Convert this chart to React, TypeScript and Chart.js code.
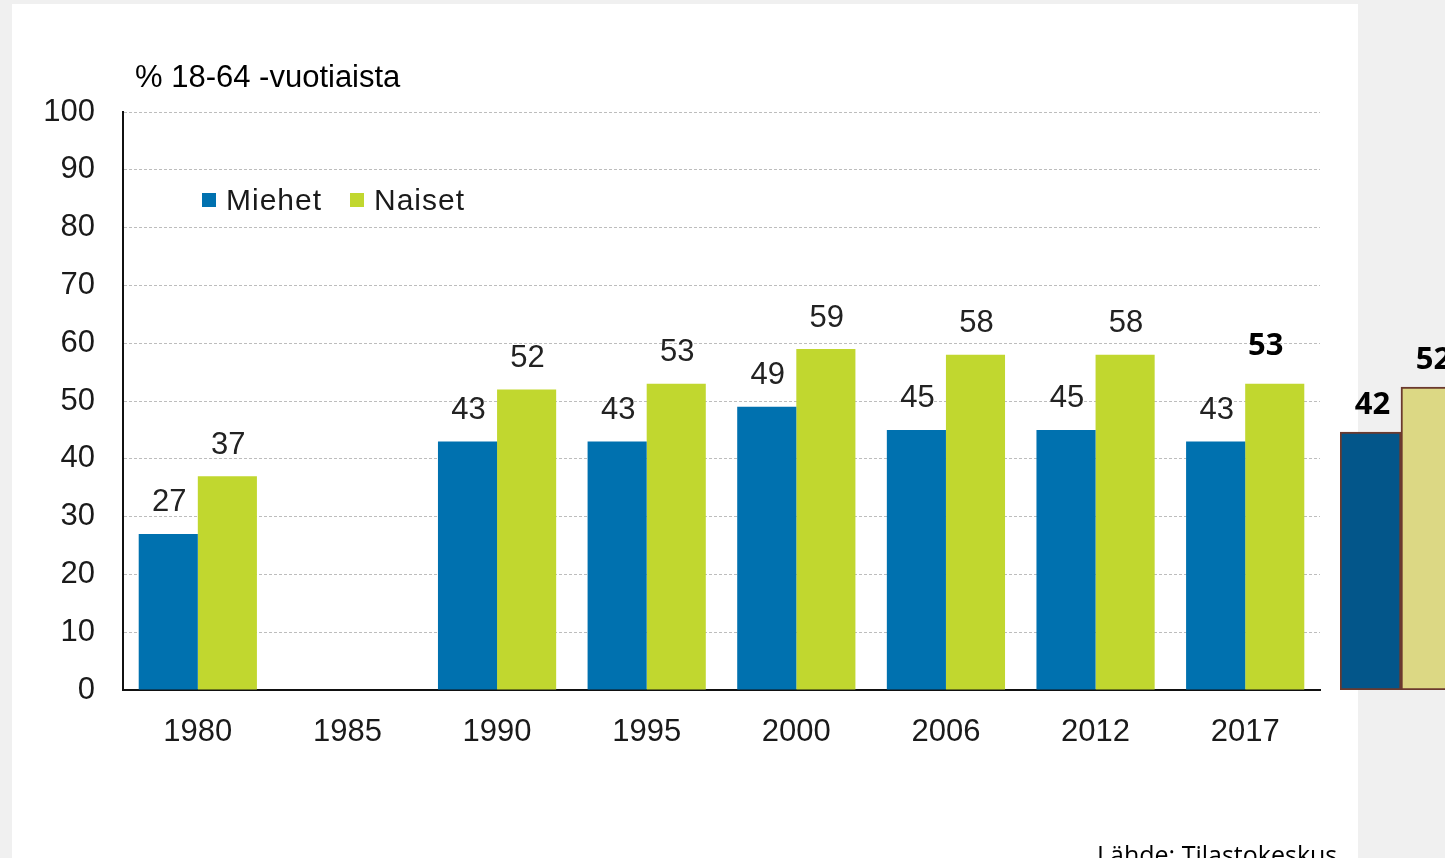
import React, { useEffect, useRef } from "react";
import { Chart, registerables } from "chart.js";

Chart.register(...registerables);

// ---- data ----
const years = ["1980", "1985", "1990", "1995", "2000", "2006", "2012", "2017"];
const miehet: (number | null)[] = [27, null, 43, 43, 49, 45, 45, 43];
const naiset: (number | null)[] = [37, null, 52, 53, 59, 58, 58, 53];
const seriesNames = ["Miehet", "Naiset"];
const yTicksMax = 100;
const yTickStep = 10;
const axisTitle = "% 18-64 -vuotiaista";
const sourceText = "Lähde: Tilastokeskus";

// overlay comparison bars (pasted on the right)
const overlayMiehet = [42];
const overlayNaiset = [52];

const BLUE = "#0071AF";
const GREEN = "#C1D72F";
const TICK_FONT = '"Liberation Sans", Arial, sans-serif';

const valueLabels = {
  id: "valueLabels",
  afterDatasetsDraw(chart: any, _args: any, opts: any) {
    const ctx = chart.ctx;
    ctx.save();
    ctx.textAlign = "center";
    ctx.textBaseline = "middle";
    chart.data.datasets.forEach((ds: any, di: number) => {
      const meta = chart.getDatasetMeta(di);
      meta.data.forEach((el: any, i: number) => {
        const v = ds.data[i];
        if (v == null) return;
        const hl = (opts.highlight || []).find((h: any) => h.dataset === di && h.index === i);
        if (hl) {
          ctx.font = hl.font;
          ctx.fillStyle = hl.color;
          ctx.fillText(String(v), el.x + hl.dx, el.y - hl.dy);
        } else {
          ctx.font = opts.font;
          ctx.fillStyle = opts.color;
          ctx.fillText(String(v), el.x + (opts.dx || 0), el.y - opts.offset);
        }
      });
    });
    ctx.restore();
  },
};

export default function App() {
  const mainRef = useRef<HTMLCanvasElement>(null);
  const overRef = useRef<HTMLCanvasElement>(null);

  useEffect(() => {
    const main = new Chart(mainRef.current!, {
      type: "bar",
      data: {
        labels: years,
        datasets: [
          { label: seriesNames[0], data: miehet, backgroundColor: BLUE, barPercentage: 1, categoryPercentage: 0.79 },
          { label: seriesNames[1], data: naiset, backgroundColor: GREEN, barPercentage: 1, categoryPercentage: 0.79 },
        ],
      },
      options: {
        responsive: false,
        animation: false,
        devicePixelRatio: 1,
        layout: { padding: { left: 0, right: 38, top: 108, bottom: 0 } },
        plugins: {
          legend: { display: false },
          tooltip: { enabled: false },
          valueLabels: {
            font: `31px ${TICK_FONT}`,
            color: "#222",
            offset: 31,
            dx: 1,
            highlight: [
              { dataset: 1, index: 7, font: 'bold 31px "Open Sans", sans-serif', color: "#000", dx: -9, dy: 37 },
            ],
          },
        } as any,
        scales: {
          x: {
            grid: { display: false, drawTicks: false },
            border: { display: true, color: "#111", width: 2 },
            ticks: { color: "#1a1a1a", font: { family: TICK_FONT, size: 31 }, padding: 24 },
            afterFit: (s: any) => {
              s.height = 168;
            },
          },
          y: {
            min: 0,
            max: yTicksMax,
            grid: { color: "#bdbdbd", lineWidth: 1, drawTicks: false },
            border: { display: true, color: "#111", width: 2, dash: [3, 2] },
            ticks: { stepSize: yTickStep, color: "#1a1a1a", font: { family: TICK_FONT, size: 31 }, padding: 28 },
            afterFit: (s: any) => {
              s.width = 111;
            },
          },
        },
      },
      plugins: [valueLabels],
    });

    const over = new Chart(overRef.current!, {
      type: "bar",
      data: {
        labels: [""],
        datasets: [
          {
            label: seriesNames[0],
            data: overlayMiehet,
            backgroundColor: "#03568A",
            borderColor: "#6B3A2E",
            borderWidth: 2,
            borderSkipped: false,
            base: -15.33,
            barPercentage: 1,
            categoryPercentage: 1,
          } as any,
          {
            label: seriesNames[1],
            data: overlayNaiset,
            backgroundColor: "#DCD884",
            borderColor: "#6B3A2E",
            borderWidth: 2,
            borderSkipped: false,
            base: -15.33,
            barPercentage: 1,
            categoryPercentage: 1,
          } as any,
        ],
      },
      options: {
        responsive: false,
        animation: false,
        devicePixelRatio: 1,
        layout: { padding: 0 },
        plugins: {
          legend: { display: false },
          tooltip: { enabled: false },
          valueLabels: {
            font: 'bold 31px "Open Sans", sans-serif',
            color: "#000",
            offset: 27,
            dx: 2,
          },
        } as any,
        scales: {
          x: { display: false },
          y: { display: false, min: -15.33, max: 71.33 },
        },
      },
      plugins: [valueLabels],
    });

    return () => {
      main.destroy();
      over.destroy();
    };
  }, []);

  const legendItem = (name: string, color: string, left: number) => (
    <div
      key={name}
      style={{ position: "absolute", left, top: 183, height: 34, display: "flex", alignItems: "center" }}
    >
      <div style={{ width: 14, height: 14, background: color, marginRight: 10 }} />
      <span
        style={{
          fontFamily: TICK_FONT,
          fontSize: 30,
          letterSpacing: 1,
          color: "#1a1a1a",
          lineHeight: "34px",
        }}
      >
        {name}
      </span>
    </div>
  );

  return (
    <div
      style={{
        position: "fixed",
        left: 0,
        top: 0,
        width: 1445,
        height: 858,
        background: "#F0F0F0",
        overflow: "hidden",
      }}
    >
      <div style={{ position: "absolute", left: 12, top: 4, width: 1346, height: 854, background: "#fff" }} />
      <canvas
        ref={mainRef}
        width={1346}
        height={854}
        style={{ position: "absolute", left: 12, top: 4, width: 1346, height: 854 }}
      />
      <div
        style={{
          position: "absolute",
          left: 135,
          top: 61,
          fontFamily: TICK_FONT,
          fontSize: 31,
          lineHeight: 1,
          color: "#000",
          whiteSpace: "nowrap",
        }}
      >
        {axisTitle}
      </div>
      {legendItem(seriesNames[0], BLUE, 202)}
      {legendItem(seriesNames[1], GREEN, 350)}
      <canvas
        ref={overRef}
        width={122}
        height={390}
        style={{ position: "absolute", left: 1340, top: 300, width: 122, height: 390 }}
      />
      <div
        style={{
          position: "absolute",
          left: 1097,
          top: 842,
          fontFamily: '"Open Sans", sans-serif',
          fontSize: 25,
          lineHeight: 1,
          color: "#000",
          whiteSpace: "nowrap",
        }}
      >
        {sourceText}
      </div>
    </div>
  );
}
